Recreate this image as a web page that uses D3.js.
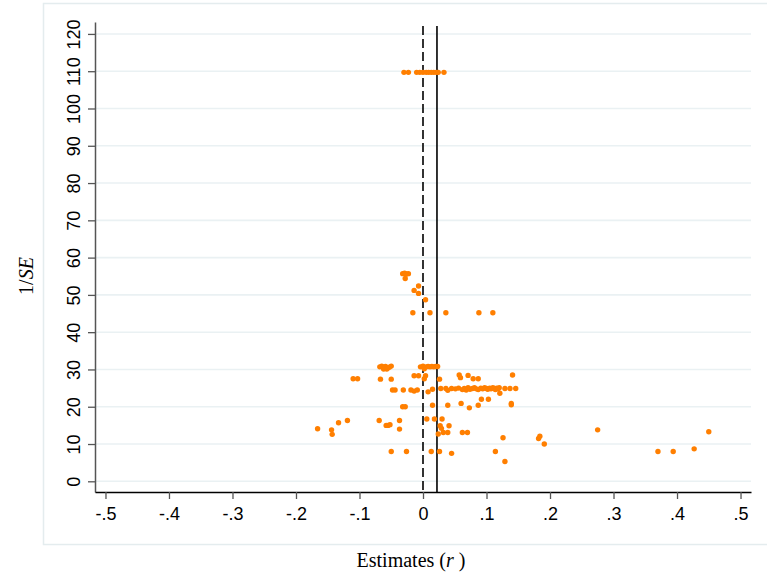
<!DOCTYPE html>
<html>
<head>
<meta charset="utf-8">
<script src="https://cdn.jsdelivr.net/npm/d3@7"></script>
<style>
  body { margin: 0; background: #fff; }
  svg { display: block; }
</style>
</head>
<body>
<div id="chart"></div>
<script>
// study estimates (r) and their precision (1/SE)
var estimates = [
  -0.030, -0.023, -0.010, -0.005, 0.000, 0.005, 0.009, 0.013, 0.017, 0.021, 0.024, 0.033,
  -0.032, -0.029, -0.026, -0.023, -0.028,
  -0.007, -0.014, -0.007, 0.004,
  -0.016, 0.011, 0.036, 0.088, 0.110,
  -0.068, -0.065, -0.062, -0.059, -0.056, -0.053, -0.050, -0.062, -0.057,
  -0.004, 0.000, 0.002, 0.005, 0.008, 0.011, 0.014, 0.017, 0.020, 0.023,
  -0.014, -0.007, 0.004, 0.002, 0.026, 0.057, 0.059, 0.071, 0.079, 0.087, 0.141,
  -0.110, -0.103, -0.067, -0.050,
  -0.048, -0.044, -0.031, -0.019, -0.014, -0.009, 0.008, 0.015,
  0.028, 0.036, 0.039, 0.045, 0.051, 0.056, 0.062, 0.065, 0.068, 0.071, 0.074, 0.078,
  0.081, 0.084, 0.087, 0.091, 0.094, 0.097, 0.100, 0.102, 0.105, 0.107, 0.110, 0.112,
  0.114, 0.116, 0.118, 0.120, 0.121, 0.129, 0.137, 0.146,
  0.092, 0.103, 0.060, 0.139, 0.139,
  0.015, 0.039, 0.087, 0.073, -0.032, -0.028,
  0.006, 0.018, 0.030, -0.119, -0.069, -0.037, -0.133,
  -0.058, -0.055, -0.052, 0.027, 0.041, 0.029,
  -0.166, -0.037, -0.144, -0.143,
  0.032, 0.039, 0.062, 0.070, 0.024,
  0.275, 0.450, 0.126, 0.182, 0.184, 0.191,
  -0.050, -0.026, 0.013, 0.026, 0.114, 0.045, 0.129,
  0.370, 0.394, 0.427
];
var precision = [
  109.7, 109.7, 109.7, 109.7, 109.7, 109.7, 109.7, 109.7, 109.7, 109.7, 109.7, 109.7,
  55.7, 55.8, 55.6, 55.7, 54.4,
  52.4, 51.2, 50.4, 48.7,
  45.2, 45.2, 45.2, 45.2, 45.2,
  30.7, 30.9, 30.6, 30.8, 30.3, 30.6, 30.9, 30.1, 30.1,
  30.7, 30.9, 30.2, 30.7, 30.8, 30.7, 30.8, 30.7, 30.8, 30.8,
  28.3, 28.3, 28.3, 27.5, 27.4, 28.5, 27.8, 28.4, 27.5, 27.5, 28.5,
  27.5, 27.5, 27.4, 27.4,
  24.5, 24.5, 24.5, 24.5, 24.2, 24.5, 24.0, 24.7,
  24.9, 24.9, 24.4, 24.9, 24.8, 25.0, 24.6, 24.9, 24.5, 25.1, 24.7, 24.9,
  25.1, 24.8, 24.6, 25.0, 24.8, 25.1, 24.9, 24.7, 25.0, 24.8, 25.1, 24.9,
  24.6, 25.0, 24.8, 25.1, 23.6, 24.9, 24.9, 24.9,
  22.0, 22.0, 20.9, 20.9, 20.5,
  20.4, 20.4, 20.4, 19.7, 20.0, 20.0,
  16.7, 16.7, 16.7, 16.3, 16.3, 16.3, 15.7,
  15.0, 15.0, 15.2, 14.9, 14.9, 14.2,
  14.1, 14.0, 13.8, 12.6,
  13.1, 13.1, 13.1, 13.1, 12.7,
  13.8, 13.3, 11.7, 11.5, 12.1, 10.0,
  8.0, 8.0, 8.0, 8.0, 8.0, 7.5, 5.3,
  8.0, 8.0, 8.7
];
var zeroLine = 0;
var meanEstimate = 0.022;

var xTicks = [-0.5, -0.4, -0.3, -0.2, -0.1, 0, 0.1, 0.2, 0.3, 0.4, 0.5];
var xTickLabels = ["-.5", "-.4", "-.3", "-.2", "-.1", "0", ".1", ".2", ".3", ".4", ".5"];
var yTicks = [0, 10, 20, 30, 40, 50, 60, 70, 80, 90, 100, 110, 120];

var margin = { top: 22, right: 16, bottom: 86, left: 95 },
  width = 767 - margin.left - margin.right,
  height = 578 - margin.top - margin.bottom;

let root = d3.select("#chart")
  .append("svg")
  .attr("width", 767)
  .attr("height", 578);

// outer graph region frame
root.append("rect")
  .attr("x", 43.5)
  .attr("y", 3.5)
  .attr("width", 740)
  .attr("height", 541)
  .style("fill", "none")
  .style("stroke", "#e4ecee")
  .style("stroke-width", 1.5);

let svg = root.append("g")
  .attr("transform", "translate(" + margin.left + "," + margin.top + ")");

let x = d3.scaleLinear().domain([-0.5165, 0.5165]).range([0, width]);
let y = d3.scaleLinear().domain([-2.87, 123.2]).range([height, 0]);

// horizontal grid
svg.append("g")
  .selectAll("line")
  .data(yTicks)
  .enter().append("line")
  .attr("x1", 0)
  .attr("x2", width)
  .attr("y1", d => y(d))
  .attr("y2", d => y(d))
  .style("stroke", "#eaf1f3")
  .style("stroke-width", 1.6);

// y axis
let yAxis = svg.append("g")
  .attr("id", "y-id")
  .call(d3.axisLeft(y).tickValues(yTicks).tickSize(7).tickSizeOuter(0));
yAxis.select(".domain").style("stroke", "#555").style("stroke-width", 1.5);
yAxis.selectAll(".tick line").style("stroke", "#555").style("stroke-width", 1.3);
yAxis.selectAll(".tick text")
  .attr("x", 0)
  .attr("y", -15)
  .attr("dy", 0)
  .attr("transform", "rotate(-90)")
  .style("text-anchor", "middle")
  .style("font-family", "'Liberation Sans', Arial, sans-serif")
  .style("font-size", "18px")
  .style("fill", "#000");

// x axis
let xAxis = svg.append("g")
  .attr("id", "x-id")
  .attr("transform", "translate(0," + height + ")")
  .call(d3.axisBottom(x).tickValues(xTicks)
    .tickFormat((d, i) => xTickLabels[i]).tickSize(7).tickSizeOuter(0));
xAxis.select(".domain").style("stroke", "#000").style("stroke-width", 1.5);
xAxis.selectAll(".tick line").style("stroke", "#555").style("stroke-width", 1.3);
xAxis.selectAll(".tick text")
  .attr("y", 15)
  .attr("dy", "0.71em")
  .style("font-family", "'Liberation Sans', Arial, sans-serif")
  .style("font-size", "18px")
  .style("fill", "#000");

// reference lines
svg.append("line")
  .attr("x1", x(zeroLine)).attr("x2", x(zeroLine))
  .attr("y1", 4).attr("y2", height)
  .style("stroke", "#000")
  .style("stroke-width", 1.6)
  .style("stroke-dasharray", "9,4");

svg.append("line")
  .attr("x1", x(meanEstimate)).attr("x2", x(meanEstimate))
  .attr("y1", 4).attr("y2", height)
  .style("stroke", "#000")
  .style("stroke-width", 1.6);

// points
svg.append("g")
  .selectAll("circle")
  .data(estimates.map((d, i) => [d, precision[i]]))
  .enter().append("circle")
  .attr("cx", d => x(d[0]))
  .attr("cy", d => y(d[1]))
  .attr("r", 2.7)
  .style("fill", "#ff7f00");

// axis titles
let yTitle = root.append("text")
  .attr("transform", "translate(33,276) rotate(-90)")
  .style("text-anchor", "middle")
  .style("font-family", "'Liberation Serif', 'Times New Roman', serif")
  .style("font-size", "20px");
yTitle.append("tspan").text("1/");
yTitle.append("tspan").style("font-style", "italic").text("SE");

let xTitle = root.append("text")
  .attr("x", 411)
  .attr("y", 567)
  .style("text-anchor", "middle")
  .style("font-family", "'Liberation Serif', 'Times New Roman', serif")
  .style("font-size", "20px");
xTitle.append("tspan").text("Estimates (");
xTitle.append("tspan").style("font-style", "italic").text("r");
xTitle.append("tspan").text(" )");
</script>
</body>
</html>
